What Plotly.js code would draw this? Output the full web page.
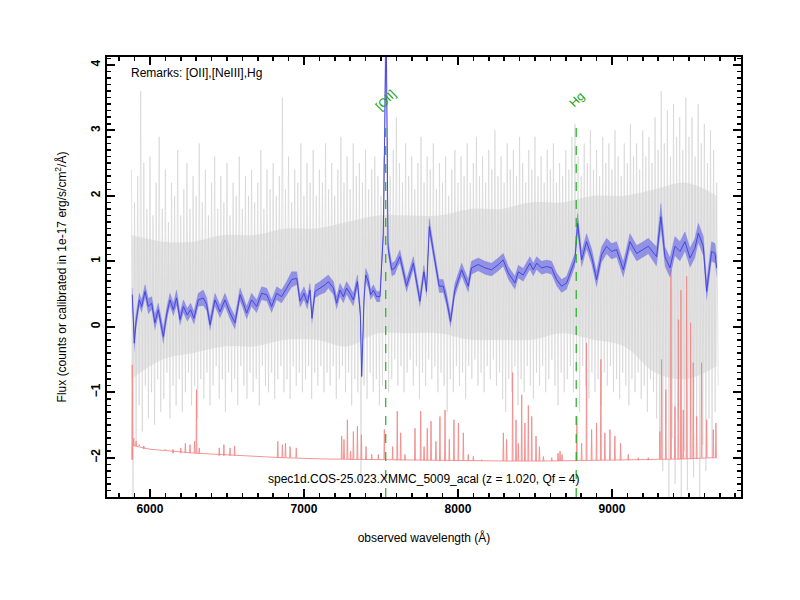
<!DOCTYPE html>
<html>
<head>
<meta charset="utf-8">
<script src="https://cdn.plot.ly/plotly-3.0.1.min.js"></script>
<style>html,body{margin:0;padding:0;background:#fff}#plot{width:800px;height:600px}</style>
</head>
<body>
<div id="plot"></div>
<script>
// ---- data ----
// raw spectrum (gray): upper and lower excursions on a 20 Å grid starting at 5880 Å
var grayStart = 5880, grayStep = 20;
var grayHi = [2.4,1.9,2.3,3.6,2.5,1.8,2.6,1.7,2.2,2.9,1.8,2.4,1.6,2.2,2.0,2.7,1.7,2.1,2.5,1.8,
2.3,2.0,2.8,1.9,2.4,1.7,2.2,2.6,1.8,2.3,1.9,2.5,1.7,2.2,2.0,2.6,1.8,2.3,2.0,2.4,
1.9,2.2,2.7,1.8,2.4,2.1,2.5,2.0,2.3,3.5,2.1,2.6,1.9,2.4,2.2,2.8,2.0,2.5,2.2,2.7,
2.0,2.4,2.2,2.8,2.1,2.5,2.0,2.4,2.9,2.2,2.6,2.1,2.8,2.3,2.5,2.2,2.7,2.1,2.4,2.6,
2.3,2.0,2.6,2.9,2.3,2.7,3.2,2.5,2.2,2.8,2.3,2.6,2.1,2.5,2.9,2.2,2.6,2.4,2.8,2.1,
2.5,2.2,2.6,2.0,2.4,2.7,2.2,2.6,2.3,2.8,2.2,2.5,2.9,2.3,2.6,2.2,2.7,2.4,3.0,2.3,
2.6,2.2,2.8,2.4,2.7,2.3,2.9,2.5,2.2,2.7,2.4,2.9,2.3,2.6,2.2,2.7,2.4,2.8,2.2,2.5,
2.3,2.7,2.4,2.9,3.1,2.6,2.3,2.8,2.5,3.0,2.4,2.7,2.3,2.9,2.5,2.8,2.4,3.0,2.6,2.3,
2.8,2.5,3.1,2.6,2.8,2.4,3.0,2.6,2.9,2.5,3.2,2.7,3.6,2.8,3.3,2.6,3.4,2.9,3.2,2.7,
3.5,2.9,3.2,2.6,3.4,2.8,3.1,2.5,3.0,2.7,2.2];
var grayLo = [-2.6,-1.8,-1.2,-1.6,-0.9,-1.4,-1.0,-1.5,-0.8,-1.3,-1.1,-0.7,-1.4,-0.9,-1.2,-0.8,-1.3,-1.0,-0.7,-1.2,
-0.9,-1.4,-0.8,-1.1,-0.7,-1.2,-0.9,-0.6,-1.1,-0.8,-1.3,-0.7,-1.0,-0.8,-1.2,-0.6,-0.9,-1.1,-0.7,-1.0,
-0.8,-1.2,-0.6,-0.9,-1.0,-0.7,-1.1,-0.8,-0.6,-1.0,-0.8,-1.1,-0.6,-0.9,-0.7,-1.0,-0.8,-0.6,-1.1,-0.7,
-0.9,-0.6,-1.0,-0.7,-0.9,-0.6,-1.1,-0.8,-0.6,-1.0,-0.7,-1.2,-0.8,-1.0,-2.4,-0.9,-1.1,-0.7,-1.0,-0.8,
-1.2,-0.9,-0.6,-1.0,-0.8,-0.5,-0.9,-0.6,-1.0,-0.7,-0.5,-0.9,-0.6,-1.1,-0.7,-0.9,-0.5,-0.8,-0.6,-1.0,
-0.7,-0.9,-1.3,-0.8,-1.0,-0.6,-0.9,-0.7,-1.1,-0.6,-0.8,-0.5,-0.9,-0.7,-1.0,-0.6,-0.8,-0.5,-0.9,-0.7,
-1.1,-1.3,-0.8,-1.0,-0.6,-1.2,-0.8,-1.0,-0.6,-0.9,-1.1,-0.7,-0.9,-0.6,-1.0,-0.8,-0.5,-0.9,-1.2,-0.7,
-1.0,-0.8,-0.6,-1.0,-0.7,-1.3,-0.6,-0.9,-1.1,-0.7,-1.0,-0.8,-1.2,-0.7,-0.9,-0.6,-1.0,-0.8,-1.1,-0.7,
-0.9,-1.2,-0.8,-1.0,-0.7,-1.1,-0.9,-1.3,-0.8,-1.0,-1.4,-1.8,-2.2,-1.5,-2.6,-1.7,-2.4,-1.4,-2.6,-1.9,
-2.5,-1.6,-2.3,-1.5,-2.6,-1.8,-2.2,-1.4,-2.0,-1.3,-0.9];
// dense core of the raw spectrum, 200 Å grid starting at 5880 Å
var coreStep = 200;
var coreHi = [1.4,1.3,1.3,1.4,1.4,1.5,1.5,1.6,1.7,1.7,1.7,1.8,1.8,1.9,1.9,2.0,2.0,2.1,2.2,2.0];
var coreLo = [-0.8,-0.5,-0.4,-0.3,-0.3,-0.2,-0.2,-0.3,-0.1,-0.1,-0.1,-0.2,-0.2,-0.2,-0.1,-0.2,-0.3,-0.7,-0.8,-0.6];

// smoothed spectrum (blue) with its uncertainty
var blueWave = [5885,5898,5909,5931,5946,5968,5989,6011,6032,6054,6087,6108,6130,6152,6173,6195,6217,6242,6264,6286,
6314,6346,6368,6390,6422,6455,6487,6520,6552,6585,6606,6628,6660,6693,6725,6758,6790,6823,6855,6888,
6920,6953,6974,7000,7022,7039,7052,7072,7104,7137,7158,7191,7212,7234,7256,7277,7299,7321,7347,7366,
7375,7390,7401,7418,7433,7451,7472,7494,7515,7526,7534,7546,7570,7591,7610,7623,7666,7710,7753,7779,
7796,7814,7840,7878,7904,7926,7952,7980,8024,8067,8088,8132,8175,8218,8262,8294,8327,8370,8392,8424,
8467,8489,8511,8543,8576,8608,8641,8673,8706,8738,8760,8777,8803,8835,8868,8900,8933,8965,8998,9030,
9074,9117,9160,9203,9236,9290,9318,9344,9377,9409,9442,9474,9507,9539,9561,9593,9615,9647,9669,9680];
var blueFlux = [0.49,-0.25,0.06,0.41,0.31,0.54,0.31,0.36,0.06,0.26,-0.15,0.18,0.41,0.26,0.44,0.11,0.31,0.18,0.26,0.13,
0.41,0.44,0.34,0.03,0.41,0.23,0.41,0.21,0.06,0.49,0.36,0.21,0.41,0.31,0.51,0.49,0.31,0.51,0.46,0.59,
0.72,0.74,0.39,0.51,0.36,0.56,0.13,0.54,0.59,0.64,0.69,0.59,0.36,0.56,0.46,0.59,0.51,0.41,0.69,0.2,
-0.76,0.41,0.79,0.69,0.49,0.56,0.46,0.46,1.4,4.6,4.6,1.2,0.87,0.9,1.02,1.07,0.62,0.97,0.39,0.84,
0.54,1.53,1.15,0.62,0.62,0.41,0.08,0.56,0.87,0.62,0.9,0.95,0.9,0.87,0.95,1.02,0.82,0.67,0.84,0.79,
0.97,0.87,0.97,0.9,0.92,0.9,0.72,0.62,0.67,0.87,1.02,1.58,1.02,1.3,1.07,0.72,1.1,1.23,1.15,1.18,
0.87,1.3,1.12,1.18,1.23,1.07,1.68,1.07,0.9,1.23,1.15,1.3,1.05,1.2,1.43,1.23,0.54,1.15,1.12,0.9];
var blueErr = [0.1,0.15,0.12,0.1,0.1,0.1,0.12,0.1,0.12,0.1,0.12,0.1,0.1,0.1,0.12,0.1,0.1,0.1,0.1,0.1,
0.1,0.12,0.1,0.1,0.1,0.1,0.1,0.1,0.1,0.1,0.1,0.1,0.1,0.1,0.1,0.1,0.1,0.1,0.1,0.1,
0.12,0.1,0.1,0.1,0.1,0.1,0.1,0.1,0.1,0.12,0.1,0.1,0.1,0.1,0.1,0.1,0.1,0.1,0.1,0.1,
0.05,0.08,0.1,0.1,0.08,0.08,0.08,0.08,0.1,0.2,0.2,0.1,0.1,0.1,0.1,0.1,0.1,0.1,0.1,0.1,
0.1,0.12,0.1,0.1,0.1,0.1,0.1,0.1,0.1,0.1,0.1,0.1,0.1,0.1,0.1,0.1,0.1,0.1,0.1,0.1,
0.1,0.1,0.1,0.1,0.1,0.1,0.1,0.1,0.1,0.1,0.1,0.15,0.12,0.12,0.12,0.12,0.12,0.12,0.12,0.12,
0.12,0.12,0.12,0.12,0.12,0.15,0.2,0.15,0.15,0.15,0.15,0.15,0.15,0.15,0.15,0.15,0.15,0.15,0.15,0.15];

// error spectrum (red, offset): slow baseline and narrow spikes
var redBaseWave = [5885,5887,5900,6000,6287,6575,6862,7150,7437,7724,8011,8299,8586,8874,9161,9448,9664,9680];
var redBaseFlux = [-2.03,-1.8,-1.82,-1.87,-1.93,-1.97,-2.0,-2.02,-2.03,-2.04,-2.05,-2.05,-2.05,-2.04,-2.04,-2.02,-2.0,-2.0];
var redSpikeWave = [5885,5895,5910,5930,5960,6100,6150,6200,6230,6260,6290,6302,6320,6450,6480,6520,6550,6830,6860,6880,6910,6950,
7245,7260,7282,7303,7321,7347,7373,7403,7440,7483,7522,7576,7606,7628,7656,7721,7758,7780,7801,7825,7857,7883,7916,7944,7974,8003,8035,8067,8100,8154,
8295,8316,8355,8377,8392,8414,8435,8457,8479,8507,8529,8555,8609,8650,8663,8676,
8772,8803,8835,8868,8900,8928,8954,8987,9019,9056,9106,9171,9236,
9311,9322,9350,9383,9409,9431,9448,9463,9485,9511,9528,9550,9582,9615,9658,9675];
var redSpikePeak = [-0.58,-1.7,-1.75,-1.8,-1.82,-1.88,-1.87,-1.85,-1.78,-1.8,-1.75,-0.96,-1.85,-1.85,-1.8,-1.85,-1.82,-1.75,-1.8,-1.78,-1.83,-1.85,
-1.67,-1.72,-1.42,-1.9,-1.6,-1.52,-1.65,-1.83,-1.95,-1.95,-1.57,-1.83,-1.29,-1.62,-1.95,-1.55,-1.29,-1.83,-1.55,-1.44,-1.75,-1.37,-1.27,-1.72,-1.42,-1.47,-1.62,-1.95,-1.98,-2.03,
-1.62,-1.72,-0.7,-1.42,-1.78,-1.04,-1.47,-1.2,-1.37,-1.67,-1.83,-1.98,-2.0,-1.93,-1.9,-1.95,
-1.37,-1.78,-0.25,-1.57,-1.47,-0.5,-1.62,-1.57,-1.67,-1.78,-1.95,-2.0,-2.0,
-1.6,-0.5,-0.96,0.87,-1.22,0.11,0.56,-1.27,0.77,0.06,-0.55,-1.37,-0.55,-1.42,-1.57,-1.47];

// identified emission lines
var lineNames = ['[OII]', 'Hg'];
var lineWaves = [7531, 8768];
var lineTop = 3.15;
var lineLabelY = 3.47;

var titleText = 'spec1d.COS-25.023.XMMC_5009_acal (z = 1.020, Qf = 4)';
var remarksText = 'Remarks: [OII],[NeIII],Hg';

// ---- build traces ----
var cx = [], cHi = [], cLo = [];
for (var c = 0; c < coreHi.length; c++) { cx.push(grayStart + coreStep * c); cHi.push(coreHi[c]); cLo.push(coreLo[c]); }
var coreLoTr = {x: cx, y: cLo, type: 'scatter', mode: 'lines', line: {width: 0, color: 'rgba(0,0,0,0)', shape: 'spline'}, hoverinfo: 'skip'};
var coreHiTr = {x: cx, y: cHi, type: 'scatter', mode: 'lines', fill: 'tonexty', fillcolor: '#e8e8e8',
  line: {width: 0, color: 'rgba(0,0,0,0)', shape: 'spline'}, hoverinfo: 'skip'};

var gx = [], gy = [];
for (var i = 0; i < grayHi.length; i++) {
  var w = grayStart + grayStep * i;
  gx.push(w); gy.push(grayHi[i]);
  gx.push(w + grayStep / 2); gy.push(grayLo[i]);
}
var gray = {x: gx, y: gy, type: 'scatter', mode: 'lines',
  line: {color: '#d0d0d0', width: 0.6}, hoverinfo: 'skip'};

var bHi = blueFlux.map(function (v, k) { return v + blueErr[k]; });
var bLo = blueFlux.map(function (v, k) { return v - blueErr[k]; });
var bandLo = {x: blueWave, y: bLo, type: 'scatter', mode: 'lines', line: {width: 0, color: 'rgba(0,0,0,0)'}, hoverinfo: 'skip'};
var bandHi = {x: blueWave, y: bHi, type: 'scatter', mode: 'lines', fill: 'tonexty',
  fillcolor: 'rgba(105,105,230,0.65)', line: {width: 0.4, color: 'rgba(100,100,225,0.7)'}, hoverinfo: 'skip'};
var blue = {x: blueWave, y: blueFlux, type: 'scatter', mode: 'lines', line: {color: '#3d3de0', width: 0.9}};

function nearestBase(w) {
  var best = 0;
  for (var k = 0; k < redBaseWave.length; k++) {
    if (Math.abs(redBaseWave[k] - w) < Math.abs(redBaseWave[best] - w)) best = k;
  }
  return redBaseFlux[best];
}
var red = {x: redBaseWave, y: redBaseFlux, type: 'scatter', mode: 'lines', line: {color: '#f28a8a', width: 0.9}};
var sx = [], sy = [];
for (var j = 0; j < redSpikeWave.length; j++) {
  var b = nearestBase(redSpikeWave[j]);
  sx.push(redSpikeWave[j] - 3, redSpikeWave[j], redSpikeWave[j] + 3, null);
  sy.push(b, redSpikePeak[j], b, null);
}
var redSpikes = {x: sx, y: sy, type: 'scatter', mode: 'lines', line: {color: '#f28a8a', width: 0.9}, connectgaps: false};

var traces = [coreLoTr, coreHiTr, gray, red, redSpikes, bandLo, bandHi, blue];
var annotations = [], shapes = [];
for (var m = 0; m < lineNames.length; m++) {
  shapes.push({type: 'line', xref: 'x', yref: 'y', x0: lineWaves[m], x1: lineWaves[m], y0: -2.6, y1: lineTop,
    line: {color: '#1fb01f', width: 1.2, dash: 'dash'}, layer: 'above'});
  annotations.push({x: lineWaves[m], y: lineLabelY, xref: 'x', yref: 'y', text: lineNames[m], showarrow: false,
    textangle: -45, font: {color: '#10a010', size: 12, family: 'Liberation Sans, Arial, sans-serif'}, xanchor: 'center', yanchor: 'middle'});
}
annotations.push({x: 0.5, y: 0.02, xref: 'paper', yref: 'paper', text: titleText, showarrow: false,
  xanchor: 'center', yanchor: 'bottom', font: {size: 12, color: '#000'}});
annotations.push({x: 0.035, y: 0.985, xref: 'paper', yref: 'paper', text: remarksText, showarrow: false,
  xanchor: 'left', yanchor: 'top', font: {size: 12, color: '#000'}});

var axisCommon = {
  showgrid: false, zeroline: false, showline: true, linecolor: '#000', linewidth: 2,
  mirror: 'allticks', ticks: 'inside', ticklen: 8, tickwidth: 2, tickcolor: '#000',
  tickfont: {size: 12, color: '#000', weight: 'bold'}
};
var layout = {
  width: 800, height: 600,
  margin: {l: 107, r: 59, t: 57, b: 103},
  paper_bgcolor: '#fff', plot_bgcolor: '#fff',
  showlegend: false,
  font: {family: 'Liberation Sans, Arial, Helvetica, sans-serif', color: '#000'},
  xaxis: Object.assign({}, axisCommon, {
    range: [5721, 9838], tickmode: 'linear', tick0: 6000, dtick: 1000, tickformat: 'd',
    minor: {ticks: 'inside', ticklen: 4, tickwidth: 1.5, tickcolor: '#000', dtick: 100},
    title: {text: 'observed wavelength (Å)', font: {size: 12}, standoff: 18}
  }),
  yaxis: Object.assign({}, axisCommon, {
    range: [-2.6, 4.12], tickmode: 'linear', tick0: 0, dtick: 1, tickangle: -90,
    minor: {ticks: 'inside', ticklen: 4, tickwidth: 1.5, tickcolor: '#000', dtick: 0.1},
    title: {text: 'Flux (counts or calibrated in 1e-17 erg/s/cm<sup>2</sup>/Å)', font: {size: 12}, standoff: 20}
  }),
  shapes: shapes,
  annotations: annotations
};
Plotly.newPlot('plot', traces, layout, {staticPlot: true, displayModeBar: false});
</script>
</body>
</html>
